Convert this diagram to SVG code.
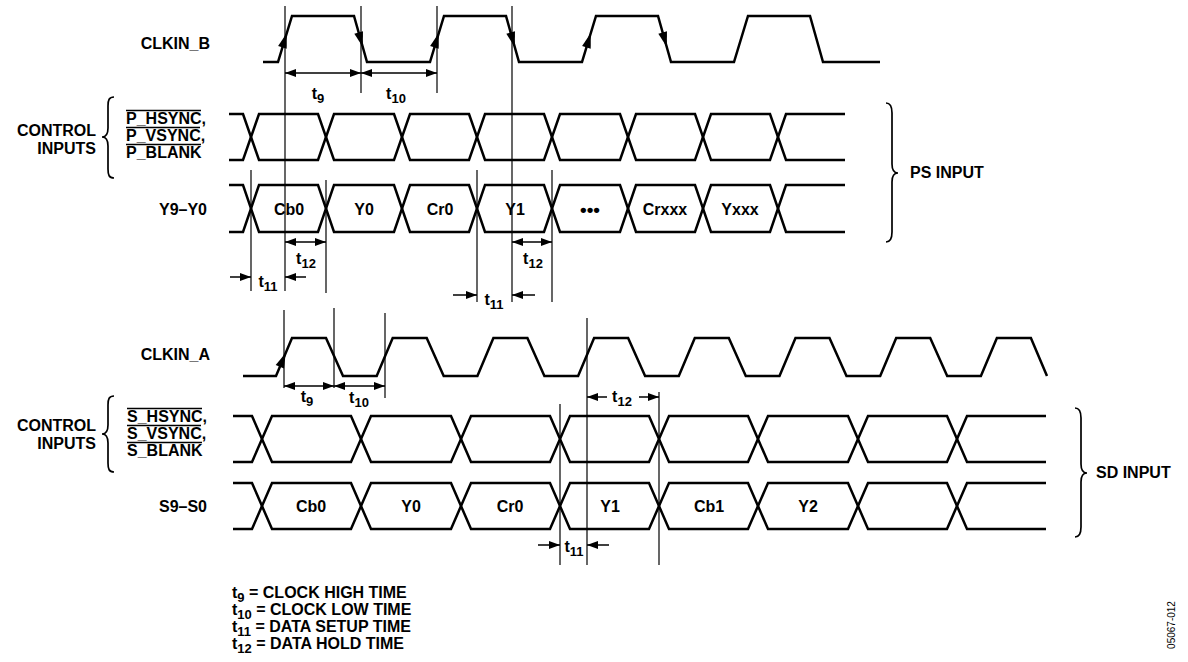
<svg xmlns="http://www.w3.org/2000/svg" width="1188" height="662" viewBox="0 0 1188 662">
<style>
.t{font-family:"Liberation Sans",Arial,sans-serif;font-weight:bold;font-size:16px;fill:#000}
.s{font-size:13px}
.w{fill:none;stroke:#000;stroke-width:2.5;stroke-linejoin:miter}
.g{fill:none;stroke:#000;stroke-width:1.2}
.d{fill:none;stroke:#000;stroke-width:1.5}
.br{fill:none;stroke:#000;stroke-width:1.7}
.ol{stroke:#000;stroke-width:1.5}
</style>
<defs>
<marker id="a" viewBox="0 0 11 8" refX="11" refY="4" markerWidth="11" markerHeight="8" markerUnits="userSpaceOnUse" orient="auto-start-reverse"><path d="M0,0 L11,4 L0,8 z" fill="#000"/></marker>
<path id="ah" d="M0,0 L-15,-4.5 L-15,4.5 Z" fill="#000"/>
</defs>
<rect width="1188" height="662" fill="#fff"/>

<g id="clkin-b">
<text class="t" x="210" y="49" text-anchor="end">CLKIN_B</text>
<path class="w" d="M263,62 H278 L292,16 H354 L367,62 H430 L444,16 H506 L519,62 H582 L596,16 H658 L671,62 H734 L748,16 H810 L823,62 H880"/>
<use href="#ah" transform="translate(286.8,33) rotate(-73)"/>
<use href="#ah" transform="translate(438.8,33) rotate(-73)"/>
<use href="#ah" transform="translate(590.8,33) rotate(-73)"/>
<use href="#ah" transform="translate(362.8,47) rotate(74)"/>
<use href="#ah" transform="translate(514.8,47) rotate(74)"/>
<use href="#ah" transform="translate(666.8,47) rotate(74)"/>
</g>

<g id="ps-control">
<text class="t" x="96" y="136" text-anchor="end">CONTROL</text>
<text class="t" x="96" y="154" text-anchor="end">INPUTS</text>
<path class="br" d="M114,97 C109,97 108,100 108,106 L108,128 C108,134 106,137 102,137 C106,137 108,140 108,146 L108,169 C108,175 109,178 114,178"/>
<text class="t" x="126" y="124">P_HSYNC,</text>
<text class="t" x="126" y="141">P_VSYNC,</text>
<text class="t" x="126" y="158">P_BLANK</text>
<line class="ol" x1="126" y1="110.5" x2="201" y2="110.5"/>
<line class="ol" x1="126" y1="127.5" x2="200" y2="127.5"/>
<line class="ol" x1="126" y1="144.5" x2="201" y2="144.5"/>
<path class="w" d="M229,114 H243 L259,160 H318 L334,114 H394 L410,160 H469 L485,114 H544 L560,160 H620 L636,114 H695 L711,160 H770 L786,114 H845"/>
<path class="w" d="M229,160 H243 L259,114 H318 L334,160 H394 L410,114 H469 L485,160 H544 L560,114 H620 L636,160 H695 L711,114 H770 L786,160 H845"/>
</g>

<g id="ps-data">
<text class="t" x="207" y="215" text-anchor="end">Y9–Y0</text>
<path class="w" d="M229,185 H243 L259,232 H318 L334,185 H394 L410,232 H469 L485,185 H544 L560,232 H620 L636,185 H695 L711,232 H770 L786,185 H845"/>
<path class="w" d="M229,232 H243 L259,185 H318 L334,232 H394 L410,185 H469 L485,232 H544 L560,185 H620 L636,232 H695 L711,185 H770 L786,232 H845"/>
<text class="t" x="289" y="215" text-anchor="middle">Cb0</text>
<text class="t" x="364" y="215" text-anchor="middle">Y0</text>
<text class="t" x="440" y="215" text-anchor="middle">Cr0</text>
<text class="t" x="515" y="215" text-anchor="middle">Y1</text>
<text class="t" x="590" y="216" text-anchor="middle" style="font-size:19px">•••</text>
<text class="t" x="665" y="215" text-anchor="middle">Crxxx</text>
<text class="t" x="740" y="215" text-anchor="middle">Yxxx</text>
</g>

<g id="ps-input">
<path class="br" d="M886,103 C891,103 892,107 892,113 L892,164 C892,170 894,173 898,173 C894,173 892,176 892,182 L892,232 C892,238 891,242 886,242"/>
<text class="t" x="910" y="178">PS INPUT</text>
</g>

<g id="clkin-a">
<text class="t" x="210" y="360" text-anchor="end">CLKIN_A</text>
<path class="w" d="M243,376 H276 L292,338 H326 L343,376 H376.7 L392.7,338 H426.7 L443.7,376 H477.4 L493.4,338 H527.4 L544.4,376 H578.1 L594.1,338 H628.1 L645.1,376 H678.8 L694.8,338 H728.8 L745.8,376 H779.5 L795.5,338 H829.5 L846.5,376 H880.2 L896.2,338 H930.2 L947.2,376 H980.9 L996.9,338 H1030.9 L1047,376"/>
<use href="#ah" transform="translate(285.7,353) rotate(-67)"/>
</g>

<g id="sd-control">
<text class="t" x="96" y="431" text-anchor="end">CONTROL</text>
<text class="t" x="96" y="449" text-anchor="end">INPUTS</text>
<path class="br" d="M114,396 C109,396 108,399 108,405 L108,425 C108,431 106,434 102,434 C106,434 108,437 108,443 L108,463 C108,469 109,472 114,472"/>
<text class="t" x="127" y="422">S_HSYNC,</text>
<text class="t" x="127" y="439">S_VSYNC,</text>
<text class="t" x="127" y="456">S_BLANK</text>
<line class="ol" x1="127" y1="408.5" x2="202" y2="408.5"/>
<line class="ol" x1="127" y1="425.5" x2="201" y2="425.5"/>
<line class="ol" x1="127" y1="442.5" x2="202" y2="442.5"/>
<path class="w" d="M233,416 H252 L272,462 H351 L371,416 H451 L471,462 H550 L570,416 H649 L669,462 H748 L768,416 H848 L868,462 H947 L967,416 H1046"/>
<path class="w" d="M233,462 H252 L272,416 H351 L371,462 H451 L471,416 H550 L570,462 H649 L669,416 H748 L768,462 H848 L868,416 H947 L967,462 H1046"/>
</g>

<g id="sd-data">
<text class="t" x="207" y="512" text-anchor="end">S9–S0</text>
<path class="w" d="M233,483 H252 L272,529 H351 L371,483 H451 L471,529 H550 L570,483 H649 L669,529 H748 L768,483 H848 L868,529 H947 L967,483 H1046"/>
<path class="w" d="M233,529 H252 L272,483 H351 L371,529 H451 L471,483 H550 L570,529 H649 L669,483 H748 L768,529 H848 L868,483 H947 L967,529 H1046"/>
<text class="t" x="311" y="512" text-anchor="middle">Cb0</text>
<text class="t" x="411" y="512" text-anchor="middle">Y0</text>
<text class="t" x="510" y="512" text-anchor="middle">Cr0</text>
<text class="t" x="610" y="512" text-anchor="middle">Y1</text>
<text class="t" x="709" y="512" text-anchor="middle">Cb1</text>
<text class="t" x="808" y="512" text-anchor="middle">Y2</text>
</g>

<g id="sd-input">
<path class="br" d="M1075,408 C1080,408 1081,412 1081,418 L1081,464 C1081,470 1083,473 1087,473 C1083,473 1081,476 1081,482 L1081,527 C1081,533 1080,537 1075,537"/>
<text class="t" x="1096" y="478">SD INPUT</text>
</g>

<g id="connectors">
<line class="g" x1="285" y1="6" x2="285" y2="291"/>
<line class="g" x1="361" y1="6" x2="361" y2="93"/>
<line class="g" x1="437" y1="6" x2="437" y2="93"/>
<line class="g" x1="512" y1="6" x2="512" y2="302"/>
<line class="g" x1="251" y1="170" x2="251" y2="291"/>
<line class="g" x1="326" y1="180" x2="326" y2="293"/>
<line class="g" x1="477" y1="170" x2="477" y2="302"/>
<line class="g" x1="552" y1="170" x2="552" y2="302"/>
<line class="d" x1="285" y1="73" x2="361" y2="73" marker-start="url(#a)" marker-end="url(#a)"/>
<line class="d" x1="361" y1="73" x2="437" y2="73" marker-start="url(#a)" marker-end="url(#a)"/>
<line class="d" x1="285" y1="242" x2="326" y2="242" marker-start="url(#a)" marker-end="url(#a)"/>
<line class="d" x1="512" y1="242" x2="552" y2="242" marker-start="url(#a)" marker-end="url(#a)"/>
<line class="d" x1="230" y1="277" x2="251" y2="277" marker-end="url(#a)"/>
<line class="d" x1="306" y1="277" x2="285" y2="277" marker-end="url(#a)"/>
<line class="d" x1="453" y1="295" x2="477" y2="295" marker-end="url(#a)"/>
<line class="d" x1="535" y1="295" x2="512" y2="295" marker-end="url(#a)"/>

<line class="g" x1="284" y1="310" x2="284" y2="388"/>
<line class="g" x1="334" y1="308" x2="334" y2="388"/>
<line class="g" x1="385" y1="313" x2="385" y2="398"/>
<line class="g" x1="587" y1="318" x2="587" y2="565"/>
<line class="g" x1="560" y1="404" x2="560" y2="565"/>
<line class="g" x1="659" y1="392" x2="659" y2="565"/>
<line class="d" x1="284" y1="386" x2="334" y2="386" marker-start="url(#a)" marker-end="url(#a)"/>
<line class="d" x1="334" y1="386" x2="385" y2="386" marker-start="url(#a)" marker-end="url(#a)"/>
<line class="d" x1="607" y1="397" x2="587" y2="397" marker-end="url(#a)"/>
<line class="d" x1="639" y1="397" x2="659" y2="397" marker-end="url(#a)"/>
<line class="d" x1="538" y1="545" x2="560" y2="545" marker-end="url(#a)"/>
<line class="d" x1="609" y1="545" x2="587" y2="545" marker-end="url(#a)"/>
</g>

<g id="timing-labels">
<text class="t" x="318" y="99" text-anchor="middle">t<tspan class="s" dy="4">9</tspan></text>
<text class="t" x="396" y="99" text-anchor="middle">t<tspan class="s" dy="4">10</tspan></text>
<text class="t" x="306" y="264" text-anchor="middle">t<tspan class="s" dy="4">12</tspan></text>
<text class="t" x="533" y="264" text-anchor="middle">t<tspan class="s" dy="4">12</tspan></text>
<text class="t" x="268" y="287" text-anchor="middle">t<tspan class="s" dy="4">11</tspan></text>
<text class="t" x="494" y="305" text-anchor="middle">t<tspan class="s" dy="4">11</tspan></text>
<text class="t" x="307" y="402" text-anchor="middle">t<tspan class="s" dy="4">9</tspan></text>
<text class="t" x="359" y="403" text-anchor="middle">t<tspan class="s" dy="4">10</tspan></text>
<text class="t" x="622" y="402" text-anchor="middle">t<tspan class="s" dy="4">12</tspan></text>
<text class="t" x="574" y="552" text-anchor="middle">t<tspan class="s" dy="4">11</tspan></text>
</g>

<g id="legend">
<text class="t" x="232" y="598">t<tspan class="s" dy="4">9</tspan><tspan dy="-4"> = CLOCK HIGH TIME</tspan></text>
<text class="t" x="232" y="615">t<tspan class="s" dy="4">10</tspan><tspan dy="-4"> = CLOCK LOW TIME</tspan></text>
<text class="t" x="232" y="632">t<tspan class="s" dy="4">11</tspan><tspan dy="-4"> = DATA SETUP TIME</tspan></text>
<text class="t" x="232" y="649">t<tspan class="s" dy="4">12</tspan><tspan dy="-4"> = DATA HOLD TIME</tspan></text>
</g>

<text x="1175" y="625" transform="rotate(-90 1175 625)" text-anchor="middle" font-family="Liberation Sans, Arial, sans-serif" font-size="10" fill="#000">05067-012</text>
</svg>
